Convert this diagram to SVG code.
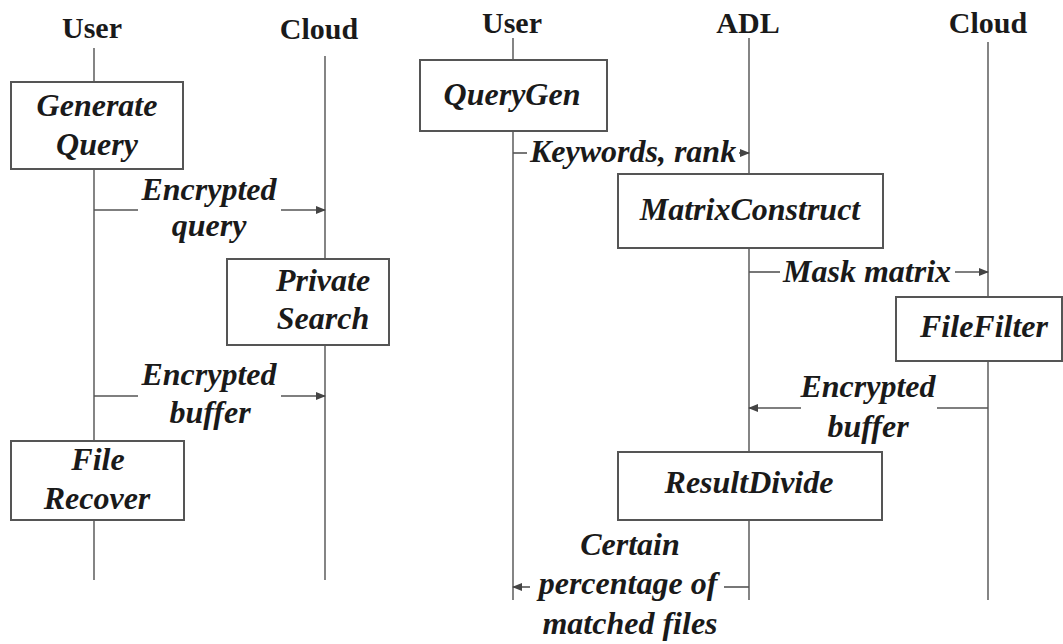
<svg xmlns="http://www.w3.org/2000/svg" width="1063" height="644" viewBox="0 0 1063 644">
<style>
.title{font-family:"Liberation Serif",serif;font-weight:bold;font-size:30px;fill:#1a1a1a;text-anchor:middle}
.lbl{font-family:"Liberation Serif",serif;font-weight:bold;font-style:italic;font-size:32px;fill:#1a1a1a;text-anchor:middle}
.life{stroke:#666;stroke-width:1.6;fill:none}
.box{fill:#fff;stroke:#555;stroke-width:2}
.msg{stroke:#555;stroke-width:1.6;fill:none}
</style>
<defs>
<marker id="ah" markerWidth="10" markerHeight="8" refX="9" refY="4" orient="auto" markerUnits="userSpaceOnUse">
<path d="M0,0 L10,4 L0,8 Z" fill="#444"/>
</marker>
</defs>
<rect width="1063" height="644" fill="#fff"/>
<g id="lifelines">
<text class="title" x="92" y="38">User</text>
<text class="title" x="319" y="39">Cloud</text>
<line class="life" x1="94" y1="48" x2="94" y2="580"/>
<line class="life" x1="325" y1="56" x2="325" y2="580"/>
<text class="title" x="512" y="33">User</text>
<text class="title" x="748" y="33">ADL</text>
<text class="title" x="988" y="33">Cloud</text>
<line class="life" x1="513" y1="38" x2="513" y2="600"/>
<line class="life" x1="749" y1="38" x2="749" y2="600"/>
<line class="life" x1="988" y1="42" x2="988" y2="600"/>
</g>
<g id="connectors">
<line class="msg" x1="94" y1="210" x2="138" y2="210"/>
<line class="msg" x1="281" y1="210" x2="325" y2="210" marker-end="url(#ah)"/>
<line class="msg" x1="94" y1="396" x2="138" y2="396"/>
<line class="msg" x1="281" y1="396" x2="325" y2="396" marker-end="url(#ah)"/>
<line class="msg" x1="513" y1="153" x2="527" y2="153"/>
<line class="msg" x1="739" y1="153" x2="749" y2="153" marker-end="url(#ah)"/>
<line class="msg" x1="749" y1="272" x2="780" y2="272"/>
<line class="msg" x1="955" y1="272" x2="988" y2="272" marker-end="url(#ah)"/>
<line class="msg" x1="988" y1="408" x2="937" y2="408"/>
<line class="msg" x1="801" y1="408" x2="749" y2="408" marker-end="url(#ah)"/>
<line class="msg" x1="749" y1="587" x2="724" y2="587"/>
<line class="msg" x1="530" y1="587" x2="513" y2="587" marker-end="url(#ah)"/>
</g>
<g id="msg-labels">
<text class="lbl" x="209" y="200">Encrypted</text>
<text class="lbl" x="209" y="236">query</text>
<text class="lbl" x="209" y="385">Encrypted</text>
<text class="lbl" x="210" y="423">buffer</text>
<text class="lbl" x="633" y="162">Keywords, rank</text>
<text class="lbl" x="867" y="282">Mask matrix</text>
<text class="lbl" x="868" y="397">Encrypted</text>
<text class="lbl" x="868" y="437">buffer</text>
<text class="lbl" x="630" y="555">Certain</text>
<text class="lbl" x="628" y="594">percentage of</text>
<text class="lbl" x="630" y="634">matched files</text>
</g>
<g id="generate-query">
<rect class="box" x="11" y="82" width="172" height="87"/>
<text class="lbl" x="97" y="116">Generate</text>
<text class="lbl" x="97" y="155">Query</text>
</g>
<g id="private-search">
<rect class="box" x="227" y="259" width="162" height="86"/>
<text class="lbl" x="323" y="291">Private</text>
<text class="lbl" x="323" y="329">Search</text>
</g>
<g id="file-recover">
<rect class="box" x="11" y="441" width="173" height="79"/>
<text class="lbl" x="98" y="470">File</text>
<text class="lbl" x="97" y="509">Recover</text>
</g>
<g id="querygen">
<rect class="box" x="420" y="60" width="187" height="71"/>
<text class="lbl" x="512" y="105">QueryGen</text>
</g>
<g id="matrixconstruct">
<rect class="box" x="618" y="174" width="265" height="74"/>
<text class="lbl" x="750" y="220">MatrixConstruct</text>
</g>
<g id="filefilter">
<rect class="box" x="896" y="297" width="166" height="64"/>
<text class="lbl" x="984" y="337">FileFilter</text>
</g>
<g id="resultdivide">
<rect class="box" x="618" y="452" width="264" height="68"/>
<text class="lbl" x="749" y="493">ResultDivide</text>
</g>
</svg>
